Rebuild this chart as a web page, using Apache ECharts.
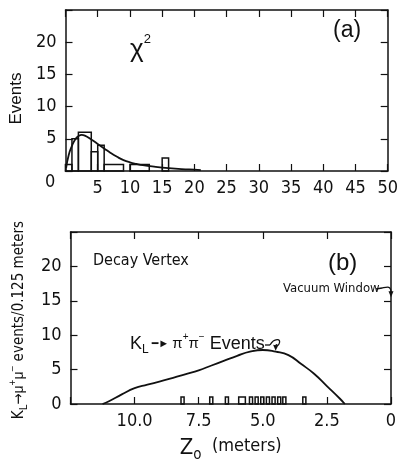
<!DOCTYPE html>
<html><head><meta charset="utf-8">
<script src="https://cdn.jsdelivr.net/npm/echarts@6/dist/echarts.min.js"></script>
<style>html,body{margin:0;padding:0;background:#fff}#c{width:401px;height:464px}</style>
</head><body><div id="c"></div><script>
// ---------- Panel (a): chi-squared distribution ----------
const chiBinStart = [0, 1, 2, 4, 5, 6, 10, 15];
const chiBinEnd   = [1, 2, 4, 5, 6, 9, 13, 16];
const chiCounts   = [1, 5, 6, 3, 4, 1, 1, 2];
const chiFitX = [0.1, 0.5, 1, 1.5, 2, 2.5, 3, 4, 5, 6, 7, 8, 9, 10, 11, 12, 14, 16, 18, 20, 21];
const chiFitY = [0.5, 2.5, 3.9, 4.9, 5.4, 5.6, 5.5, 4.9, 4.2, 3.5, 2.8, 2.2, 1.7, 1.35, 1.1, 0.9, 0.65, 0.45, 0.3, 0.2, 0.15];

// ---------- Panel (b): decay vertex ----------
const vertexLo = [8.07, 6.95, 6.34, 5.68, 5.40, 5.18, 4.96, 4.74, 4.52, 4.30, 4.10, 3.32];
const vertexHi = [8.19, 7.07, 6.46, 5.94, 5.52, 5.30, 5.08, 4.86, 4.64, 4.42, 4.22, 3.44];
const vertexCounts = [1, 1, 1, 1, 1, 1, 1, 1, 1, 1, 1, 1];
const pipiZ = [11.25, 11.0, 10.5, 10.0, 9.5, 9.0, 8.5, 8.0, 7.5, 7.0, 6.5, 6.0, 5.5, 5.0, 4.5, 4.0, 3.5, 3.0, 2.5, 2.0, 1.8];
const pipiY = [0, 0.4, 1.4, 2.3, 2.8, 3.3, 3.8, 4.35, 4.9, 5.6, 6.3, 7.0, 7.6, 7.85, 7.6, 7.1, 5.8, 4.4, 2.6, 0.8, 0];

const NARROW = '"Liberation Sans Narrow","DejaVu Sans Condensed","Liberation Sans",sans-serif';
const SANS = '"Liberation Sans","DejaVu Sans",sans-serif';
const INK = '#111';

const chart = echarts.init(document.getElementById('c'), null, {renderer: 'canvas'});

const axisLine = {show: true, onZero: false, lineStyle: {color: INK, width: 1.5}};
const tick = {show: true, inside: true, length: 7, lineStyle: {color: INK, width: 1.2}};
const lbl = {color: INK, fontFamily: NARROW, fontSize: 18};

function histSeries(xIdx, yIdx, lo, hi, counts) {
  return {
    type: 'custom', xAxisIndex: xIdx, yAxisIndex: yIdx, z: 3, silent: true,
    data: lo.map((s, i) => [s, hi[i], counts[i]]),
    encode: {x: [0, 1], y: 2},
    renderItem: (params, api) => {
      const p0 = api.coord([api.value(0), 0]);
      const p1 = api.coord([api.value(1), api.value(2)]);
      return {
        type: 'rect',
        shape: {x: Math.min(p0[0], p1[0]), y: p1[1], width: Math.abs(p1[0] - p0[0]), height: p0[1] - p1[1]},
        style: {fill: 'none', stroke: INK, lineWidth: 1.5}
      };
    }
  };
}

const option = {
  backgroundColor: '#fff',
  animation: false,
  grid: [
    {left: 61, top: 10, width: 330, height: 161},
    {left: 61, top: 232, width: 330, height: 182}
  ],
  xAxis: [
    {gridIndex: 0, type: 'value', position: 'bottom', min: 0, max: 50, interval: 5,
     axisLine, axisTick: tick, splitLine: {show: false},
     axisLabel: Object.assign({margin: 8, showMinLabel: true, showMaxLabel: true,
       formatter: v => v === 0 ? '' : String(v)}, lbl)},
    {gridIndex: 0, type: 'value', position: 'top', min: 0, max: 50, interval: 5,
     axisLine, axisTick: tick, splitLine: {show: false}, axisLabel: {show: false}},
    {gridIndex: 1, type: 'value', position: 'bottom', min: 0, max: 12.5, interval: 2.5, inverse: true,
     axisLine, axisTick: tick, splitLine: {show: false},
     axisLabel: Object.assign({margin: 8, showMinLabel: true, showMaxLabel: true,
       formatter: v => v === 12.5 ? '' : (v === 0 ? '0' : v.toFixed(1))}, lbl),
     name: '{Z|Z}{o|o}{m|  (meters)}', nameLocation: 'middle', nameGap: 33,
     nameTextStyle: {color: INK, fontFamily: NARROW, rich: {
       Z: {fontSize: 22, fontFamily: NARROW, color: INK, lineHeight: 26, verticalAlign: 'top'},
       o: {fontSize: 15, fontFamily: NARROW, color: INK, lineHeight: 14, verticalAlign: 'bottom'},
       m: {fontSize: 18, fontFamily: NARROW, color: INK, lineHeight: 26, verticalAlign: 'top'}
     }}},
    {gridIndex: 1, type: 'value', position: 'top', min: 0, max: 12.5, interval: 2.5, inverse: true,
     axisLine, axisTick: tick, splitLine: {show: false}, axisLabel: {show: false}}
  ],
  yAxis: [
    {gridIndex: 0, type: 'value', position: 'left', min: 0, max: 25, interval: 5,
     axisLine, axisTick: tick, splitLine: {show: false},
     axisLabel: Object.assign({margin: 9, formatter: v => (v === 0 || v === 25) ? '' : String(v)}, lbl),
     name: 'Events', nameLocation: 'middle', nameRotate: 90, nameGap: 40,
     nameTextStyle: {color: INK, fontFamily: SANS, fontSize: 17, padding: [0, 16, 0, 0]}},
    {gridIndex: 0, type: 'value', position: 'right', min: 0, max: 25, interval: 5,
     axisLine, axisTick: tick, splitLine: {show: false}, axisLabel: {show: false}},
    {gridIndex: 1, type: 'value', position: 'left', min: 0, max: 25, interval: 5,
     axisLine, axisTick: tick, splitLine: {show: false},
     axisLabel: Object.assign({margin: 9, formatter: v => v === 25 ? '' : String(v)}, lbl),
     name: '{n|K}{s|L}{n|→}{m|μ}{p|+}{m|μ}{p|−}{n| events/0.125 meters}',
     nameLocation: 'middle', nameRotate: 90, nameGap: 38,
     nameTextStyle: {color: INK, fontFamily: NARROW, padding: [0, 4, 0, 0], rich: {
       n: {fontSize: 15, fontFamily: NARROW, color: INK, lineHeight: 22, verticalAlign: 'middle'},
       m: {fontSize: 14, fontFamily: SANS, color: INK, lineHeight: 22, verticalAlign: 'middle'},
       s: {fontSize: 11, fontFamily: NARROW, color: INK, lineHeight: 11, verticalAlign: 'bottom'},
       p: {fontSize: 10, fontFamily: SANS, color: INK, lineHeight: 11, verticalAlign: 'top'}
     }}},
    {gridIndex: 1, type: 'value', position: 'right', min: 0, max: 25, interval: 5,
     axisLine, axisTick: tick, splitLine: {show: false}, axisLabel: {show: false}}
  ],
  series: [
    histSeries(0, 0, chiBinStart, chiBinEnd, chiCounts),
    {type: 'line', xAxisIndex: 0, yAxisIndex: 0, smooth: true, showSymbol: false, silent: true, z: 4,
     data: chiFitX.map((x, i) => [x, chiFitY[i]]), lineStyle: {color: INK, width: 1.8}},
    histSeries(2, 2, vertexLo, vertexHi, vertexCounts),
    {type: 'line', xAxisIndex: 2, yAxisIndex: 2, smooth: true, showSymbol: false, silent: true, z: 4,
     data: pipiZ.map((x, i) => [x, pipiY[i]]), lineStyle: {color: INK, width: 1.8}}
  ]
};
chart.setOption(option);

// ---------- annotations ----------
const peakIdx = pipiZ.indexOf(4.5);
const t1 = chart.convertToPixel({xAxisIndex: 2, yAxisIndex: 2}, [pipiZ[peakIdx], pipiY[peakIdx]]);
const t2 = chart.convertToPixel({xAxisIndex: 2, yAxisIndex: 2}, [0, 15.5]);
const ls = {stroke: INK, lineWidth: 1.3, fill: null};

chart.setOption({graphic: [
  {type: 'text', left: 45, top: 173, style: {text: '0', font: '18px ' + NARROW, fill: INK}},
  {type: 'text', left: 130, top: 33, style: {text: '{c|χ}{s|2}', rich: {
     c: {fontSize: 26, fontFamily: SANS, fill: INK, lineHeight: 30, verticalAlign: 'bottom'},
     s: {fontSize: 13, fontFamily: SANS, fill: INK, lineHeight: 14, verticalAlign: 'top'}}}},
  {type: 'text', left: 333, top: 19, style: {text: '(a)', font: '23px ' + SANS, fill: INK}},
  {type: 'text', left: 328, top: 251, style: {text: '(b)', font: '24px ' + SANS, fill: INK}},
  {type: 'text', left: 93, top: 253, style: {text: 'Decay Vertex', font: '16px ' + NARROW, fill: INK}},
  {type: 'text', left: 283, top: 282, style: {text: 'Vacuum Window', font: '13px ' + NARROW, fill: INK}},
  {type: 'text', left: 130, top: 332, style: {text: '{k|K}{s|L}{a| ━► }{p|π}{u|+}{p|π}{u|−}{e| Events}', rich: {
     k: {fontSize: 18, fontFamily: SANS, fill: INK, lineHeight: 24, verticalAlign: 'middle'},
     s: {fontSize: 12, fontFamily: SANS, fill: INK, lineHeight: 12, verticalAlign: 'bottom'},
     a: {fontSize: 11, fontFamily: SANS, fill: INK, lineHeight: 24, verticalAlign: 'middle'},
     p: {fontSize: 15, fontFamily: SANS, fill: INK, lineHeight: 24, verticalAlign: 'middle'},
     u: {fontSize: 10, fontFamily: SANS, fill: INK, lineHeight: 12, verticalAlign: 'top'},
     e: {fontSize: 18, fontFamily: SANS, fill: INK, lineHeight: 24, verticalAlign: 'middle'}}}},
  {type: 'line', shape: {x1: 265, y1: 345, x2: 270, y2: 345}, style: ls},
  {type: 'bezierCurve', shape: {x1: 270, y1: 345, cpx1: 274, cpy1: 338, cpx2: 282, cpy2: 338, x2: 279, y2: 344}, style: ls},
  {type: 'bezierCurve', shape: {x1: 279, y1: 344, cpx1: 277, cpy1: 348, cpx2: t1[0] + 1, cpy2: t1[1] - 10, x2: t1[0], y2: t1[1] - 5}, style: ls},
  {type: 'polygon', shape: {points: [[t1[0] - 2.5, t1[1] - 7], [t1[0] + 2.5, t1[1] - 6], [t1[0], t1[1] - 1]]},
   style: {fill: INK}},
  {type: 'line', shape: {x1: 376, y1: 289, x2: 382, y2: 288}, style: ls},
  {type: 'bezierCurve', shape: {x1: 382, y1: 288, cpx1: 387, cpy1: 287, cpx2: t2[0], cpy2: t2[1] - 12, x2: t2[0], y2: t2[1] - 5}, style: ls},
  {type: 'polygon', shape: {points: [[t2[0] - 2.5, t2[1] - 6], [t2[0] + 2.5, t2[1] - 6], [t2[0], t2[1]]]},
   style: {fill: INK}}
]});
</script></body></html>
